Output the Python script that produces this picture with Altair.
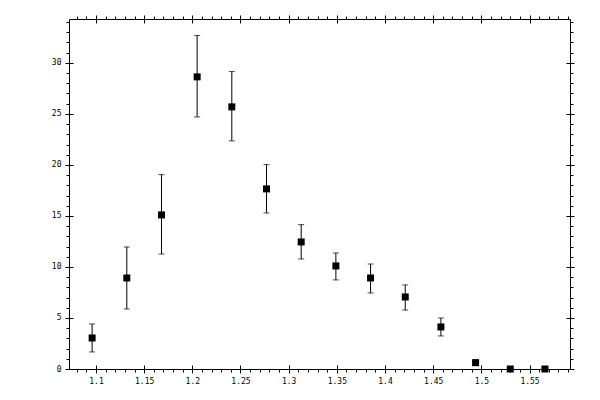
import altair as alt
import pandas as pd

# readings
x_vals = [1.096, 1.132, 1.168, 1.205, 1.241, 1.277, 1.313,
          1.349, 1.385, 1.421, 1.458, 1.494, 1.530, 1.566]
y_vals = [3.04, 8.92, 15.1, 28.63, 25.69, 17.65, 12.45,
          10.1, 8.92, 7.06, 4.12, 0.62, 0.0, 0.0]
y_low = [1.67, 5.88, 11.27, 24.7, 22.35, 15.29, 10.78,
         8.73, 7.45, 5.78, 3.24, 0.35, 0.0, 0.0]
y_high = [4.41, 11.96, 19.05, 32.68, 29.15, 20.03, 14.15,
          11.37, 10.29, 8.24, 5.0, 0.9, 0.0, 0.0]

x_major = [1.1, 1.15, 1.2, 1.25, 1.3, 1.35, 1.4, 1.45, 1.5, 1.55]
x_minor = [round(1.08 + 0.01 * i, 2) for i in range(52)]
y_major = [0, 5, 10, 15, 20, 25, 30]
y_minor = list(range(0, 35))

x_domain = [1.072, 1.592]
y_domain = [0, 34.3]

df = pd.DataFrame({"x": x_vals, "y": y_vals, "lo": y_low, "hi": y_high})


def minor_axis(orient, values):
    return alt.Axis(orient=orient, values=values, tickSize=3, labels=False,
                    domain=True, title="")


def major_axis(orient, values, labels):
    return alt.Axis(orient=orient, values=values, tickSize=8, offset=-4,
                    labels=labels, labelPadding=4, format="~g",
                    domain=False, title="")


def xenc(axis):
    return alt.X("x:Q", scale=alt.Scale(domain=x_domain, nice=False, zero=False),
                 axis=axis)


def yenc(field, axis):
    return alt.Y(f"{field}:Q", scale=alt.Scale(domain=y_domain, nice=False),
                 axis=axis)


base = alt.Chart(df)

bars = base.mark_rule(color="black", strokeWidth=1).encode(
    x=xenc(minor_axis("bottom", x_minor)),
    y=yenc("lo", minor_axis("left", y_minor)),
    y2="hi:Q",
)

cap_hi = base.mark_tick(color="black", orient="horizontal", size=6, thickness=1).encode(
    x=xenc(major_axis("bottom", x_major, True)),
    y=yenc("hi", major_axis("left", y_major, True)),
)

cap_lo = base.mark_tick(color="black", orient="horizontal", size=6, thickness=1).encode(
    x=xenc(minor_axis("top", x_minor)),
    y=yenc("lo", minor_axis("right", y_minor)),
)

points = base.mark_square(color="black", size=49, opacity=1).encode(
    x=xenc(major_axis("top", x_major, False)),
    y=yenc("y", major_axis("right", y_major, False)),
)

chart = (
    alt.layer(bars, cap_hi, cap_lo, points)
    .resolve_axis(x="independent", y="independent")
    .properties(
        width=501,
        height=350,
        autosize="none",
        padding={"left": 61, "top": 11, "right": 22, "bottom": 31},
        background="white",
    )
    .configure_view(stroke=None)
    .configure_axis(
        labelFont="DejaVu Sans Mono",
        labelFontSize=8,
        labelColor="black",
        tickColor="black",
        domainColor="black",
        grid=False,
        labelFlush=False,
        labelOverlap=False,
    )
)

chart.save("out.html", embed_options={"renderer": "svg", "actions": False})
